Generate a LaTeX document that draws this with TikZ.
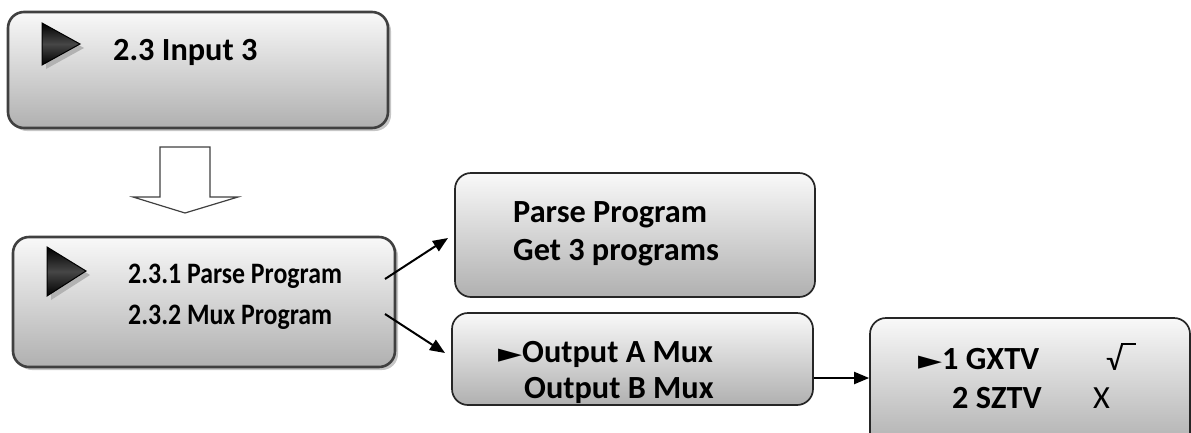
\documentclass[tikz,border=0pt]{standalone}
\usepackage{fontspec}
\setmainfont{Carlito}
\newfontfamily\symfont{DejaVu Sans}
\usetikzlibrary{arrows.meta,shadows}
\newcommand{\ptr}{{\symfont\fontsize{24}{30}\selectfont\scalebox{1.3}[1.1]{►}}}
\newcommand{\tallx}[1]{\scalebox{1}[1.15]{#1}}
\tikzset{
  menubase/.style={rounded corners=16pt, top color=gray!5, bottom color=gray!62,
    shading angle=0, inner sep=0pt},
  menubox/.style={menubase, draw=gray!50!black, line width=2.6pt,
    drop shadow={shadow xshift=3pt, shadow yshift=-3pt, fill=gray!45, opacity=1}},
  subbox/.style={menubase, draw=black!85, line width=1.7pt},
  bigtxt/.style={anchor=base west, inner sep=0pt, font=\fontsize{32.3}{38}\selectfont\bfseries},
  smalltxt/.style={anchor=base west, inner sep=0pt, font=\fontsize{25.8}{31}\selectfont\bfseries},
  regtxt/.style={anchor=base west, inner sep=0pt, font=\fontsize{32.3}{38}\selectfont},
  link/.style={line width=2pt, -{Triangle[length=15pt,width=12pt]}},
  pointer/.style={top color=black, bottom color=black, middle color=gray!55!black,
    draw=black, line width=1pt},
  ptrshadow/.style={fill=gray!60}
}
\begin{document}
\begin{tikzpicture}[x=1pt,y=-1pt]
\useasboundingbox (0,0) rectangle (1191,432);
\clip (0,0) rectangle (1191,432);
% boxes
\node[menubox, minimum width=380pt, minimum height=116pt] (b1) at (198,70) {};
\node[menubox, minimum width=382pt, minimum height=130pt] (b2) at (204,302) {};
\node[subbox, minimum width=360pt, minimum height=124pt] (b3) at (635,235) {};
\node[subbox, minimum width=361pt, minimum height=92pt] (b4) at (632.5,359) {};
\node[subbox, minimum width=320pt, minimum height=130pt] (b5) at (1030,383) {};
% pointers
\fill[ptrshadow] (46,27) -- (46,69) -- (84,48) -- cycle;
\path[pointer] (42,23) -- (42,65) -- (80,44) -- cycle;
\fill[ptrshadow] (51,251) -- (51,300) -- (90,275) -- cycle;
\path[pointer] (47,247) -- (47,296) -- (86,271) -- cycle;
% hollow arrow
\draw[line width=1.2pt, draw=black!75, fill=white] (160,147) -- (210,147) -- (210,197) -- (238,197) -- (185,213) -- (133,197) -- (160,197) -- cycle;
% texts
\node[bigtxt] (t1) at (113,60) {2.3 Input 3};
\node[smalltxt] (t2a) at (128,283) {\tallx{2.3.1 Parse Program}};
\node[smalltxt] (t2b) at (128,324) {\tallx{2.3.2 Mux Program}};
\node[bigtxt] (t3a) at (513,222) {Parse Program};
\node[bigtxt] (t3b) at (513,260) {Get 3 programs};
\node[bigtxt] (t4a) at (498,362) {\ptr Output A Mux};
\node[bigtxt] (t4b) at (524,398) {Output B Mux};
\node[bigtxt] (t5a) at (918,369) {\ptr 1 GXTV};
\node[regtxt] (t5c) at (1106,370) {√\kern-1.5pt\raisebox{25pt}{\rule{15pt}{2.4pt}}};
\node[bigtxt] (t5b) at (952,408) {2 SZTV};
\node[regtxt] (t5d) at (1093,408) {X};
% connectors
\coordinate (s1) at (385,279);
\coordinate (e1) at (448,238);
\coordinate (s2) at (385,314);
\coordinate (e2) at (445,353);
\draw[link] (s1) -- (e1);
\draw[link] (s2) -- (e2);
\draw[link] (b4.east |- 0,378) -- (b5.west |- 0,378);
\end{tikzpicture}
\end{document}
